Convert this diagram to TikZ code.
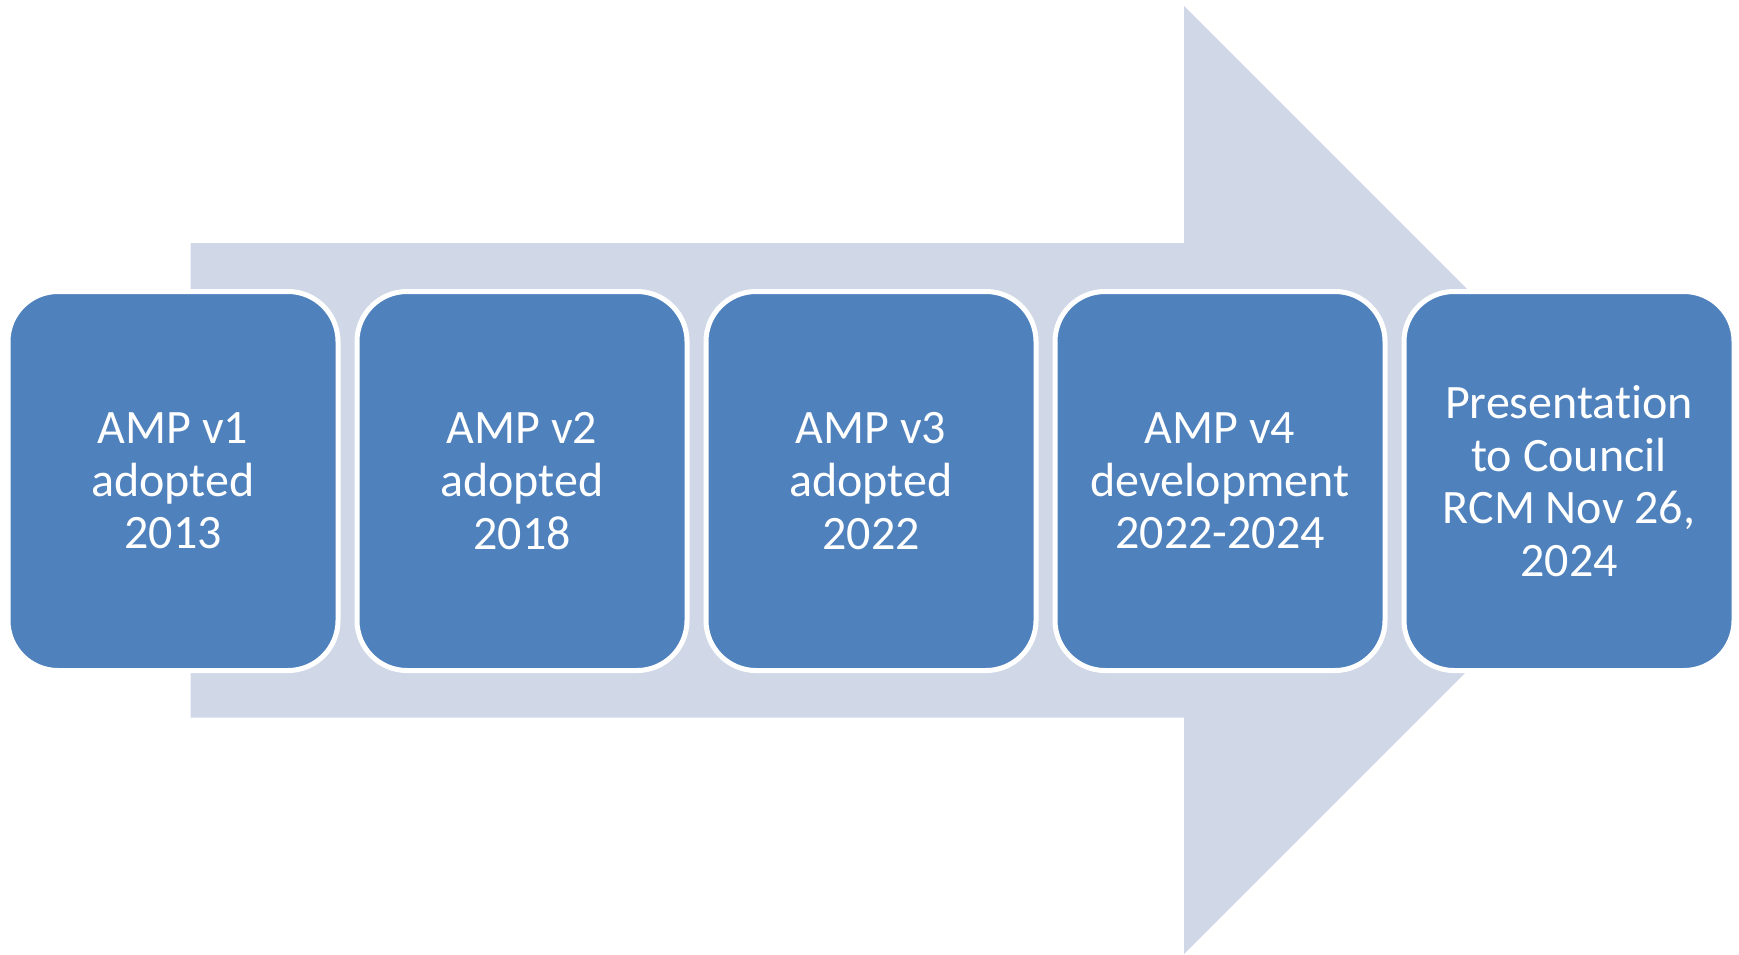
\documentclass[tikz,border=0pt]{standalone}
\usepackage{fontspec}
\setmainfont{Carlito}[Ligatures=NoCommon]
\definecolor{boxblue}{HTML}{4F81BD}
\definecolor{arrowgray}{HTML}{D0D8E8}
\begin{document}
\begin{tikzpicture}[x=1pt,y=-1pt,
  stage/.style={draw=white, line width=5pt, fill=boxblue, rounded corners=50pt,
    minimum width=330pt, minimum height=379pt, inner sep=0pt, outer sep=0pt, text=white,
    align=center, font=\fontsize{48}{52.6}\selectfont, anchor=north west}]
\useasboundingbox (0,0) rectangle (1739,954);
\fill[arrowgray] (190.7,243) -- (1184,243) -- (1184,6) -- (1658,480) -- (1184,954) -- (1184,717.5) -- (190.7,717.5) -- cycle;
\node[stage] (s1) at (8,291.5) {AMP v1\\adopted\\2013};
\node[stage] (s2) at (357,291.5) {AMP v2\\adopted\\2018};
\node[stage] (s3) at (706,291.5) {AMP v3\\adopted\\2022};
\node[stage] (s4) at (1055,291.5) {AMP v4\\development\\2022-2024};
\node[stage] (s5) at (1404,291.5) {Presentat\kern0pt ion\\to Council\\RCM Nov 26,\\2024};
\end{tikzpicture}
\end{document}
